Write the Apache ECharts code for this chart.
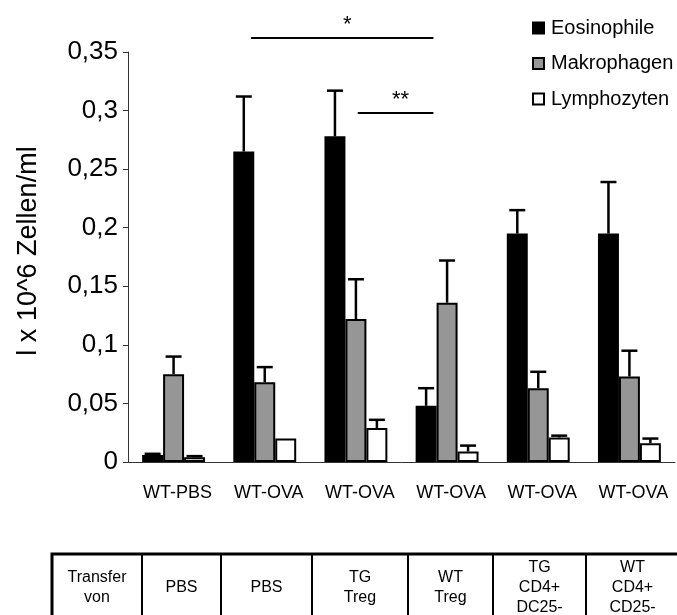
<!DOCTYPE html>
<html>
<head>
<meta charset="utf-8">
<script src="https://cdn.jsdelivr.net/npm/echarts@6/dist/echarts.min.js"></script>
<style>
html,body{margin:0;padding:0;background:#fff;}
#main{width:677px;height:615px;}
</style>
</head>
<body>
<div id="main"></div>
<script>
// ---- data ----
const categories = ['WT-PBS', 'WT-OVA', 'WT-OVA', 'WT-OVA', 'WT-OVA', 'WT-OVA'];
const seriesNames = ['Eosinophile', 'Makrophagen', 'Lymphozyten'];
const eosValues = [0.006, 0.265, 0.278, 0.048, 0.195, 0.195];
const eosErrTop = [0.007, 0.312, 0.317, 0.063, 0.215, 0.239];
const makValues = [0.075, 0.068, 0.122, 0.136, 0.063, 0.073];
const makErrTop = [0.090, 0.081, 0.156, 0.172, 0.077, 0.095];
const lymValues = [0.004, 0.020, 0.029, 0.009, 0.021, 0.016];
const lymErrTop = [0.005, 0.020, 0.036, 0.014, 0.0225, 0.020];
const yMin = 0, yMax = 0.35, yStep = 0.05;
const yAxisTitle = 'l x 10^6 Zellen/ml';
const tableCells = ['Transfer\nvon', 'PBS', 'PBS', 'TG\nTreg', 'WT\nTreg', 'TG\nCD4+\nDC25-', 'WT\nCD4+\nCD25-'];
// significance annotations: from/to in category units, y in data units
const sigFrom = [1.35, 2.52];
const sigTo = [3.35, 3.35];
const sigY = [0.362, 0.298];
const sigText = ['*', '**'];

// ---- styles / layout ----
const FONT = 'Liberation Sans, Arial, sans-serif';
const colors = ['#000000', '#969696', '#ffffff'];
const tableEdges = [52, 142, 221, 312, 408, 493, 586, 679];
const tableTop = 554, tableBottom = 650;

const values = [eosValues, makValues, lymValues];
const errs = [eosErrTop, makErrTop, lymErrTop];
const barPct = 0.23;

const chart = echarts.init(document.getElementById('main'));

const barSeries = seriesNames.map((n, i) => ({
  name: n,
  type: 'bar',
  data: values[i],
  barWidth: (barPct * 100) + '%',
  barGap: '0%',
  itemStyle: { color: colors[i], borderColor: '#000', borderWidth: 2 },
  z: 2
}));

const errSeries = seriesNames.map((n, i) => ({
  type: 'custom',
  z: 3,
  data: values[i].map((v, k) => [k, v, errs[i][k]]),
  encode: { x: 0, y: [1, 2] },
  renderItem: function (params, api) {
    const idx = api.value(0), v = api.value(1), e = api.value(2);
    if (e <= v) return null;
    const band = api.size([1, 0])[0];
    const base = api.coord([idx, v]);
    const top = api.coord([idx, e]);
    const x = base[0] + (i - 1) * barPct * band;
    const cap = 8;
    const st = { stroke: '#000', lineWidth: 2.5 };
    return {
      type: 'group',
      children: [
        { type: 'line', shape: { x1: x, y1: base[1], x2: x, y2: top[1] }, style: st },
        { type: 'line', shape: { x1: x - cap, y1: top[1], x2: x + cap, y2: top[1] }, style: st }
      ]
    };
  }
}));

const option = {
  animation: false,
  textStyle: { fontFamily: FONT },
  grid: { left: 128, right: 2, top: 52, bottom: 153, outerBoundsMode: 'none' },
  legend: {
    orient: 'vertical',
    left: 527,
    top: 13,
    itemWidth: 11,
    itemHeight: 11,
    itemGap: 15.5,
    textStyle: { fontSize: 20, color: '#000', fontFamily: FONT, padding: [0, 0, 0, 2] },
    data: seriesNames.map((n, i) => ({
      name: n, icon: 'rect',
      itemStyle: { color: colors[i], borderColor: '#000', borderWidth: 2 }
    }))
  },
  xAxis: {
    type: 'category',
    data: categories,
    axisLine: { lineStyle: { color: '#333', width: 1 } },
    axisTick: { length: 5, lineStyle: { color: '#333' } },
    axisLabel: { fontSize: 18, color: '#000', margin: 22, fontFamily: FONT, padding: [0, 0, 0, 8] }
  },
  yAxis: {
    type: 'value',
    min: yMin, max: yMax, interval: yStep,
    splitLine: { show: false },
    axisLine: { show: true, lineStyle: { color: '#333', width: 1 } },
    axisTick: { show: true, length: 5, lineStyle: { color: '#333' } },
    axisLabel: {
      fontSize: 26, color: '#000', margin: 10, fontFamily: FONT,
      formatter: v => String(Math.round(v * 100) / 100).replace('.', ',')
    }
  },
  series: barSeries.concat(errSeries)
};
chart.setOption(option);

// ---- graphics (axis title, significance marks, table) ----
const c0 = chart.convertToPixel({ xAxisIndex: 0 }, 0);
const c1 = chart.convertToPixel({ xAxisIndex: 0 }, 1);
const band = c1 - c0;
const left0 = c0 - band / 2;
const ux = u => left0 + u * band;
const vy = v => chart.convertToPixel({ yAxisIndex: 0 }, v);

const gfx = [];
gfx.push({
  type: 'text', x: 29, y: 251, rotation: Math.PI / 2,
  style: { text: yAxisTitle, fontSize: 27, fontFamily: FONT, fill: '#000', align: 'center', verticalAlign: 'middle' }
});
sigText.forEach((t, k) => {
  const x1 = ux(sigFrom[k]), x2 = ux(sigTo[k]), y = vy(sigY[k]);
  gfx.push({ type: 'line', shape: { x1: x1, y1: y, x2: x2, y2: y }, style: { stroke: '#000', lineWidth: 2 } });
  gfx.push({
    type: 'text', x: (x1 + x2) / 2 + 5, y: y - 2,
    style: { text: t, fontSize: 22, fontFamily: FONT, fill: '#000', align: 'center', verticalAlign: 'bottom' }
  });
});
tableCells.forEach((t, k) => {
  const xa = tableEdges[k], xb = tableEdges[k + 1];
  gfx.push({ type: 'rect', shape: { x: xa, y: tableTop, width: xb - xa, height: tableBottom - tableTop },
    style: { fill: 'none', stroke: '#000', lineWidth: 2 } });
  gfx.push({
    type: 'text', x: (xa + xb) / 2, y: 587.5,
    style: { text: t, fontSize: 16, lineHeight: 20, fontFamily: FONT, fill: '#000', align: 'center', verticalAlign: 'middle' }
  });
});
gfx.push({ type: 'rect', shape: { x: tableEdges[0], y: tableTop, width: tableEdges[tableEdges.length - 1] - tableEdges[0], height: tableBottom - tableTop },
  style: { fill: 'none', stroke: '#000', lineWidth: 3 } });

chart.setOption({ graphic: gfx });
</script>
</body>
</html>
